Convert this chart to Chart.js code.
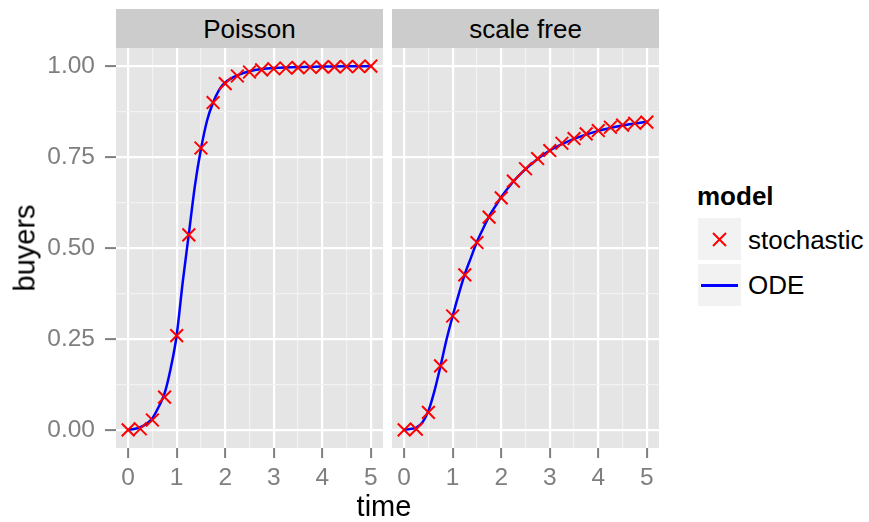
<!DOCTYPE html>
<html>
<head>
<meta charset="utf-8">
<script src="https://cdn.jsdelivr.net/npm/chart.js@4.4.1/dist/chart.umd.min.js"></script>
<style>
  body { margin: 0; background: #fff; font-family: "Liberation Sans", Arial, sans-serif; }
  #wrap { position: relative; width: 869px; height: 522px; overflow: hidden; }
  canvas { position: absolute; top: 0; }
  .strip { position: absolute; top: 9px; height: 39px; background: #CCCCCC; color: #000;
           font-size: 26px; line-height: 39px; text-align: center; padding-top: 1px; box-sizing: border-box; }
  .txt { position: absolute; white-space: nowrap; line-height: 1; color: #000; }
  .key { position: absolute; left: 698px; width: 43px; height: 42px; background: #F2F2F2; }
</style>
</head>
<body>
<div id="wrap">
  <canvas id="c1" width="388" height="522" style="left:0"></canvas>
  <canvas id="c2" width="280" height="522" style="left:388px"></canvas>
  <div class="strip" style="left:116px;width:267px">Poisson</div>
  <div class="strip" style="left:392px;width:267px">scale free</div>
  <div class="txt" style="left:384px;top:492px;font-size:29px;transform:translateX(-50%)">time</div>
  <div class="txt" style="left:25px;top:248px;font-size:29px;transform:translate(-50%,-50%) rotate(-90deg)">buyers</div>
  <div class="txt" style="left:697px;top:183px;font-size:26px;font-weight:bold">model</div>
  <div class="key" style="top:218px">
    <svg width="43" height="42"><path d="M15 15 L28 28 M28 15 L15 28" stroke="#FF0000" stroke-width="2" fill="none"/></svg>
  </div>
  <div class="key" style="top:264px">
    <svg width="43" height="42"><path d="M3 21.5 L40 21.5" stroke="#0000FF" stroke-width="3" fill="none"/></svg>
  </div>
  <div class="txt" style="left:748px;top:227px;font-size:26px">stochastic</div>
  <div class="txt" style="left:748px;top:272px;font-size:26px">ODE</div>
</div>
<script>
// stochastic simulation, sampled every 0.25
const timeStoch = [0, 0.25, 0.5, 0.75, 1, 1.25, 1.5, 1.75, 2, 2.25, 2.5, 2.75, 3, 3.25, 3.5, 3.75, 4, 4.25, 4.5, 4.75, 5];
const poissonStoch = [0, 0.003, 0.027, 0.09, 0.259, 0.536, 0.775, 0.9, 0.952, 0.973, 0.984, 0.99, 0.993, 0.995, 0.996, 0.997, 0.998, 0.998, 0.999, 0.999, 1.0];
const scaleFreeStoch = [0, 0.002, 0.048, 0.176, 0.313, 0.426, 0.515, 0.585, 0.638, 0.684, 0.718, 0.746, 0.768, 0.788, 0.801, 0.814, 0.823, 0.832, 0.838, 0.843, 0.846];

// ODE solution
const timeODE = [0, 0.125, 0.25, 0.375, 0.5, 0.625, 0.75, 0.875, 1, 1.125, 1.25, 1.375, 1.5, 1.625, 1.75, 1.875, 2, 2.25, 2.5, 2.75, 3, 3.5, 4, 4.5, 5];
const poissonODE = [0, 0.002, 0.007, 0.016, 0.032, 0.062, 0.1, 0.168, 0.26, 0.407, 0.538, 0.671, 0.772, 0.85, 0.9, 0.935, 0.955, 0.975, 0.986, 0.992, 0.995, 0.998, 0.999, 1.0, 1.0];
const scaleFreeODE = [0, 0.002, 0.006, 0.02, 0.052, 0.107, 0.176, 0.249, 0.313, 0.373, 0.428, 0.473, 0.517, 0.553, 0.587, 0.614, 0.64, 0.683, 0.717, 0.745, 0.768, 0.8, 0.822, 0.837, 0.847];

const xMajor = [0, 1, 2, 3, 4, 5];
const xMinor = [0.5, 1.5, 2.5, 3.5, 4.5];
const yMajor = [0, 0.25, 0.5, 0.75, 1];
const yMinor = [0.125, 0.375, 0.625, 0.875];
const yLabels = ['0.00', '0.25', '0.50', '0.75', '1.00'];

const grey = '#7F7F7F';
const tickFont = { family: 'Liberation Sans', size: 24.5 };

const panelBg = {
    id: 'panelBg',
    beforeDraw(chart) {
        const a = chart.chartArea;
        chart.ctx.save();
        chart.ctx.fillStyle = '#E5E5E5';
        chart.ctx.fillRect(a.left, a.top, a.right - a.left, a.bottom - a.top);
        chart.ctx.restore();
    }
};

function pairs(xs, ys) {
    return xs.map((x, i) => ({ x: x, y: ys[i] }));
}

function makePanel(id, stoch, ode, showY, pad) {
    const isMaj = (list, v) => list.some(m => Math.abs(m - v) < 1e-9);
    return new Chart(document.getElementById(id), {
        type: 'scatter',
        data: {
            datasets: [{
                label: 'stochastic',
                data: pairs(timeStoch, stoch),
                pointStyle: 'crossRot',
                pointRadius: 9,
                pointBorderWidth: 2,
                borderColor: '#FF0000',
                backgroundColor: '#FF0000',
                showLine: false
            }, {
                label: 'ODE',
                data: pairs(timeODE, ode),
                showLine: true,
                pointRadius: 0,
                borderColor: '#0000FF',
                borderWidth: 2.5,
                cubicInterpolationMode: 'monotone'
            }]
        },
        options: {
            responsive: false,
            animation: false,
            devicePixelRatio: 1,
            layout: { padding: pad },
            plugins: { legend: { display: false }, tooltip: { enabled: false } },
            scales: {
                x: {
                    type: 'linear',
                    min: -0.25,
                    max: 5.25,
                    afterBuildTicks: s => { s.ticks = xMajor.concat(xMinor).sort((a, b) => a - b).map(v => ({ value: v })); },
                    afterFit: s => { s.height = 74; s.paddingLeft = 0; s.paddingRight = 0; },
                    border: { display: false },
                    grid: {
                        color: c => isMaj(xMajor, c.tick.value) ? '#FFFFFF' : '#F2F2F2',
                        lineWidth: c => isMaj(xMajor, c.tick.value) ? 2.2 : 1.2,
                        tickColor: c => isMaj(xMajor, c.tick.value) ? grey : 'rgba(0,0,0,0)',
                        tickWidth: 2,
                        tickLength: 10
                    },
                    ticks: {
                        color: grey,
                        font: tickFont,
                        padding: 6,
                        maxRotation: 0,
                        autoSkip: false,
                        callback: v => isMaj(xMajor, v) ? String(v) : ''
                    }
                },
                y: {
                    type: 'linear',
                    min: -0.05,
                    max: 1.05,
                    afterBuildTicks: s => { s.ticks = yMajor.concat(yMinor).sort((a, b) => a - b).map(v => ({ value: v })); },
                    afterFit: s => { s.width = showY ? 116 : 0; s.paddingTop = 0; s.paddingBottom = 0; },
                    border: { display: false },
                    grid: {
                        color: c => isMaj(yMajor, c.tick.value) ? '#FFFFFF' : '#F2F2F2',
                        lineWidth: c => isMaj(yMajor, c.tick.value) ? 2.2 : 1.2,
                        tickColor: c => isMaj(yMajor, c.tick.value) ? grey : 'rgba(0,0,0,0)',
                        tickWidth: 2,
                        tickLength: 11,
                        drawTicks: showY
                    },
                    ticks: {
                        display: showY,
                        color: grey,
                        font: tickFont,
                        padding: 10,
                        autoSkip: false,
                        callback: v => {
                            const i = yMajor.findIndex(m => Math.abs(m - v) < 1e-9);
                            return i >= 0 ? yLabels[i] : '';
                        }
                    }
                }
            }
        },
        plugins: [panelBg]
    });
}

// build a panel, then shift/resize its canvas so the plot area lands on the wanted page pixels
function placePanel(id, stoch, ode, showY, pad, pageLeft, wantLeft, wantRight) {
    const cv = document.getElementById(id);
    let ch = makePanel(id, stoch, ode, showY, pad);
    const a = ch.chartArea;
    const dl = Math.round(pageLeft + a.left - wantLeft);
    const dr = Math.round(pageLeft + a.right - wantRight);
    if (dl !== 0 || dr !== 0) {
        ch.destroy();
        cv.width = cv.width + dl - dr;
        cv.height = 522;
        cv.style.left = (pageLeft - dl) + 'px';
        ch = makePanel(id, stoch, ode, showY, pad);
    }
    return ch;
}

placePanel('c1', poissonStoch, poissonODE, true, { top: 48, right: 5, bottom: 0, left: 0 }, 0, 116, 383);
placePanel('c2', scaleFreeStoch, scaleFreeODE, false, { top: 48, right: 9, bottom: 0, left: 3 }, 388, 392, 659);
</script>
</body>
</html>
